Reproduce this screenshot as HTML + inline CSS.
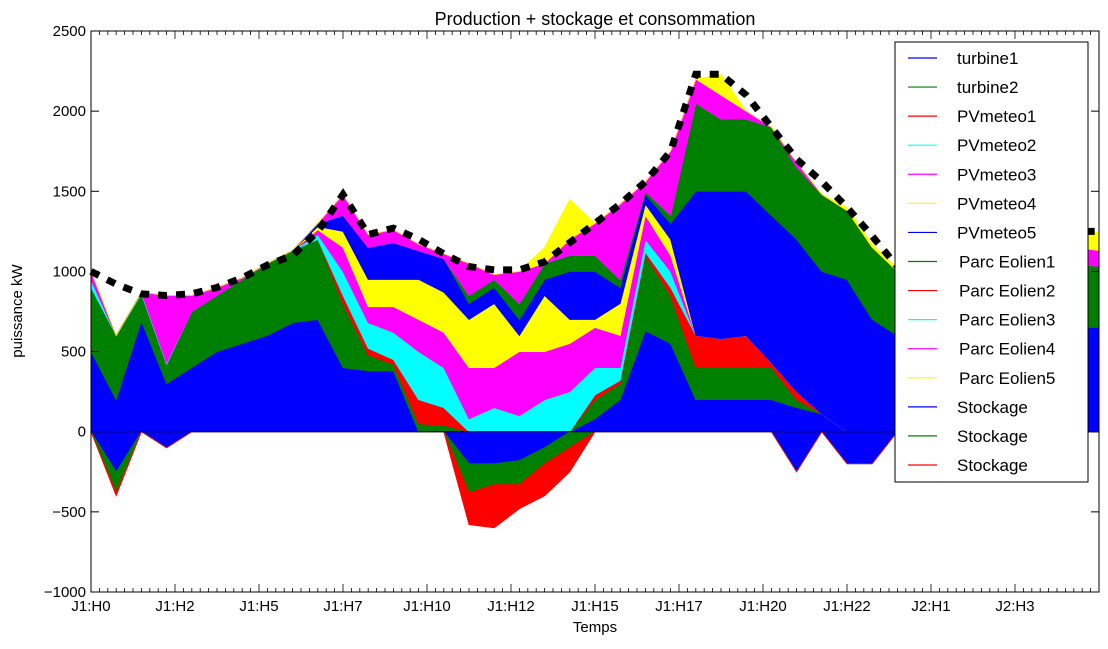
<!DOCTYPE html>
<html><head><meta charset="utf-8"><style>
body{margin:0;background:#fff;}
svg{font-family:"Liberation Sans","DejaVu Sans",sans-serif;}
</style></head><body>
<svg id="chart" width="1108" height="644" xmlns="http://www.w3.org/2000/svg">
<rect width="1108" height="644" fill="#fff"/>
<g id="areas"></g>
<g id="axes"></g>
<text x="595" y="25" font-size="18" text-anchor="middle">Production + stockage et consommation</text>
<text x="595" y="632" font-size="15" text-anchor="middle">Temps</text>
<text x="22" y="311" font-size="15" text-anchor="middle" transform="rotate(-90 22 311)">puissance kW</text>
<g id="legend"></g>
</svg>
<script>
const names=["turbine1","turbine2","PVmeteo1","PVmeteo2","PVmeteo3","PVmeteo4","PVmeteo5","Parc Eolien1","Parc Eolien2","Parc Eolien3","Parc Eolien4","Parc Eolien5","Stockage","Stockage","Stockage"];
const colors=["#0000ff","#008000","#ff0000","#00ffff","#ff00ff","#ffff00","#0000ff","#008000","#ff0000","#00ffff","#ff00ff","#ffff00","#0000ff","#008000","#ff0000"];
const xTickLabels=["J1:H0","J1:H2","J1:H5","J1:H7","J1:H10","J1:H12","J1:H15","J1:H17","J1:H20","J1:H22","J2:H1","J2:H3"];
const yTicks=[-1000,-500,0,500,1000,1500,2000,2500];
const turbine1=[500,200,690,300,400,500,550,600,680,700,400,380,380,0,0,0,0,0,0,0,80,200,630,550,200,200,200,200,150,110,0,0,0,0,0,0,0,0,0,0,0];
const turbine2=[400,400,170,120,350,350,400,450,450,500,400,100,40,50,40,0,0,0,0,0,120,100,470,300,200,200,200,200,50,0,0,0,0,0,0,0,0,0,0,0,0];
const pv1=[0,0,0,0,0,0,0,0,0,0,50,40,30,150,110,0,0,0,0,0,30,20,20,50,200,180,200,30,50,0,0,0,0,0,0,0,0,0,0,0,0];
const pv2=[50,0,10,10,0,0,0,0,0,30,150,160,170,300,250,80,150,100,200,250,170,80,80,100,0,0,0,0,0,0,0,0,0,0,0,0,0,0,0,0,0];
const pv3=[0,0,0,420,100,50,10,0,0,30,150,100,160,200,220,320,250,400,300,300,250,200,150,100,0,0,0,0,0,0,0,0,0,0,0,0,0,0,0,0,0];
const pv4=[0,0,0,0,0,0,0,0,0,20,100,170,170,250,250,300,400,100,350,150,50,200,70,100,0,0,0,0,0,0,0,0,0,0,0,0,0,0,0,0,0];
const pv5=[0,0,0,0,0,0,0,0,0,20,100,200,230,180,210,100,100,100,100,300,300,100,60,100,900,920,900,920,950,890,950,700,600,600,620,650,650,650,650,650,650];
const eol1=[0,0,0,0,0,0,0,0,0,0,0,0,0,0,0,50,50,100,100,100,100,50,20,50,550,450,450,550,450,480,430,450,400,400,430,430,450,450,480,400,380];
const eol2=[0,0,0,0,0,0,0,0,0,0,0,0,0,0,0,0,0,0,0,0,0,0,0,0,0,0,0,0,0,0,0,0,0,0,0,0,0,0,0,0,0];
const eol3=[0,0,0,0,0,0,0,0,0,0,0,0,0,0,0,0,0,0,0,0,0,0,0,0,0,0,0,0,0,0,0,0,0,0,0,0,0,0,0,0,0];
const eol4=[50,0,0,0,0,0,0,0,0,0,130,80,80,40,30,200,30,200,0,100,200,470,60,400,150,150,50,0,30,0,0,0,0,0,0,0,0,50,50,100,100];
const eol5=[0,0,0,0,0,0,0,0,0,0,0,0,0,0,0,0,0,0,100,250,0,0,0,0,0,130,0,0,0,0,20,20,20,50,50,20,50,0,0,50,120];
const stock1=[0,-250,0,-100,0,0,0,0,0,0,0,0,0,0,0,-200,-200,-180,-100,0,0,0,0,0,0,0,0,0,-250,0,-200,-200,0,0,0,0,0,0,0,0,0];
const stock2=[0,-130,0,0,0,0,0,0,0,0,0,0,0,0,0,-180,-130,-150,-100,-100,0,0,0,0,0,0,0,0,0,0,0,0,0,0,0,0,0,0,0,0,0];
const stock3=[0,-20,0,0,0,0,0,0,0,0,0,0,0,0,0,-200,-270,-150,-200,-150,0,0,0,0,0,0,0,0,0,0,0,0,0,0,0,0,0,0,0,0,0];
const consommation=[1000,920,860,850,860,900,960,1040,1100,1250,1480,1230,1270,1200,1110,1030,1010,1010,1060,1180,1300,1420,1560,1750,2230,2230,2100,1900,1700,1560,1400,1220,1030,1000,1050,1100,1150,1150,1200,1250,1250];

const X0=91,X1=1099,Y0=31,Y1=592,VMIN=-1000,VMAX=2500;
const N=consommation.length;
function xs(i){return X0+(X1-X0)*i/(N-1);}
function ys(v){return Y1-(v-VMIN)/(VMAX-VMIN)*(Y1-Y0);}
const NS="http://www.w3.org/2000/svg";
function mk(tag,attrs,parent){const e=document.createElementNS(NS,tag);for(const k in attrs)e.setAttribute(k,attrs[k]);parent.appendChild(e);return e;}
const areas=document.getElementById('areas');
const pos=[turbine1,turbine2,pv1,pv2,pv3,pv4,pv5,eol1,eol2,eol3,eol4,eol5];
const neg=[stock1,stock2,stock3];
function drawStack(list,colorOffset,prefix){
  let base=new Array(N).fill(0);
  list.forEach((s,k)=>{
    const top=base.map((b,i)=>b+s[i]);
    let d="M"+xs(0)+","+ys(top[0]);
    for(let i=1;i<N;i++)d+=" L"+xs(i)+","+ys(top[i]);
    for(let i=N-1;i>=0;i--)d+=" L"+xs(i)+","+ys(base[i]);
    d+="Z";
    const p=mk('path',{d:d,fill:colors[colorOffset+k],stroke:colors[colorOffset+k],'stroke-width':0.8},areas);
    
    
    base=top;
  });
}
drawStack(pos,0,'production');
drawStack(neg,12,'stockage');
const zl=mk('line',{x1:X0,x2:X1,y1:ys(0),y2:ys(0),stroke:'#000','stroke-width':1},areas);


let cd="";
consommation.forEach((v,i)=>{cd+=(i?" L":"M")+xs(i)+","+ys(v);});
const cl=mk('path',{d:cd,fill:'none',stroke:'#000','stroke-width':7,'stroke-dasharray':'9,9'},areas);



const axes=document.getElementById('axes');
const fr=mk('rect',{x:X0,y:Y0,width:X1-X0,height:Y1-Y0,fill:'none',stroke:'#000','stroke-width':1},axes);


yTicks.forEach(v=>{
  const y=ys(v);
  mk('line',{x1:X0,x2:X0+8,y1:y,y2:y,stroke:'#000'},axes);
  mk('line',{x1:X1,x2:X1-8,y1:y,y2:y,stroke:'#000'},axes);
  const t=mk('text',{x:X0-5,y:y+5,'font-size':15,'text-anchor':'end'},axes);
  t.textContent=v===-1000?"\u22121000":v===-500?"\u2212500":String(v);
  
  
});
const step=(X1-X0)/120;
for(let j=0;j<=120;j++){
  const x=X0+j*step, L=(j%10===0)?8:4;
  mk('line',{x1:x,x2:x,y1:Y1,y2:Y1-L,stroke:'#000','stroke-width':0.8},axes);
  mk('line',{x1:x,x2:x,y1:Y0,y2:Y0+L,stroke:'#000','stroke-width':0.8},axes);
}
xTickLabels.forEach((lab,k)=>{
  const t=mk('text',{x:X0+k*10*step,y:Y1+19,'font-size':15,'text-anchor':'middle'},axes);
  t.textContent=lab;
  
  
});
const lg=document.getElementById('legend');
const box=mk('rect',{x:895,y:42,width:193,height:440,fill:'#fff',stroke:'#000','stroke-width':1},lg);


names.forEach((n,k)=>{
  const y=58+k*29.07;
  const l=mk('line',{x1:908,x2:937,y1:y,y2:y,stroke:colors[k],'stroke-width':1.2},lg);
  
  
  const t=mk('text',{x:n.startsWith('Parc')?959:957,y:y+6,'font-size':17},lg);
  t.textContent=n;
  
  
});
</script>
</body></html>
